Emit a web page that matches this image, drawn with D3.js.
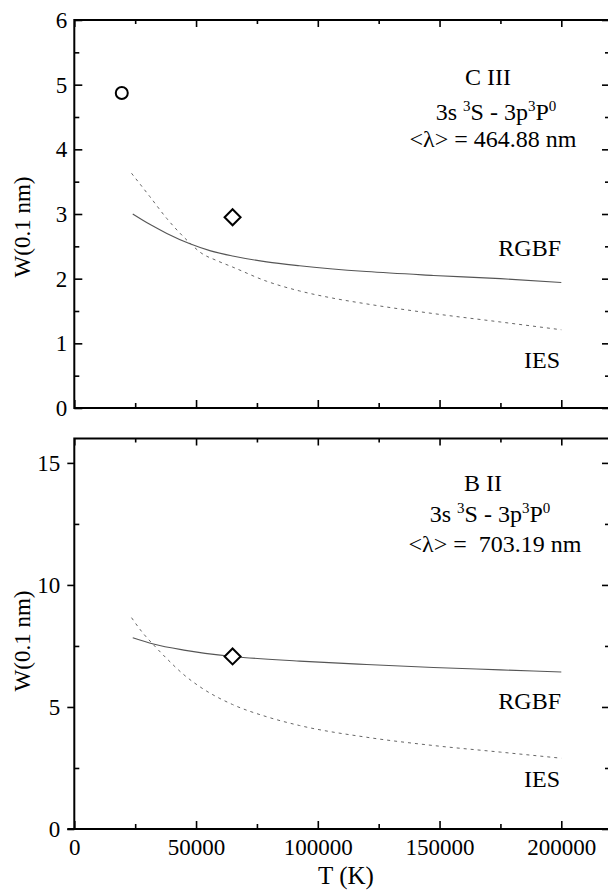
<!DOCTYPE html>
<html>
<head>
<meta charset="utf-8">
<script src="https://cdn.jsdelivr.net/npm/d3@7"></script>
<style>
  body { margin: 0; background: #fff; }
</style>
</head>
<body>
<div id="chart"></div>
<script>
// values (T in K, W in 0.1 nm)

// C III panel
const c3RgbfT = [24000, 31000, 38000, 47500, 56000, 65000, 79000, 92500, 120000, 147500, 175000, 200000];
const c3RgbfW = [3.00, 2.84, 2.70, 2.54, 2.43, 2.35, 2.26, 2.20, 2.11, 2.05, 2.00, 1.94];
const c3IesT = [23500, 31000, 38000, 47500, 52000, 58500, 65000, 79000, 92500, 106000, 120000, 147500, 175000, 200000];
const c3IesW = [3.63, 3.27, 2.93, 2.55, 2.40, 2.28, 2.18, 1.96, 1.81, 1.70, 1.61, 1.46, 1.33, 1.21];
const c3CircleT = [19500], c3CircleW = [4.87];
const c3DiamondT = [65000], c3DiamondW = [2.95];

// B II panel
const b2RgbfT = [24000, 32500, 45000, 65000, 92500, 120000, 147500, 175000, 200000];
const b2RgbfW = [7.84, 7.58, 7.33, 7.07, 6.88, 6.74, 6.62, 6.52, 6.43];
const b2IesT = [23500, 28000, 32500, 38000, 45000, 52000, 65000, 79000, 92500, 120000, 147500, 175000, 200000];
const b2IesW = [8.66, 8.05, 7.55, 6.98, 6.32, 5.80, 5.10, 4.60, 4.24, 3.76, 3.42, 3.15, 2.90];
const b2DiamondT = [65000], b2DiamondW = [7.07];

const xTicks = [0, 50000, 100000, 150000, 200000];
const xMinor = [25000, 75000, 125000, 175000];
const c3YTicks = [0, 1, 2, 3, 4, 5, 6];
const c3YMinor = [0.5, 1.5, 2.5, 3.5, 4.5, 5.5];
const b2YTicks = [0, 5, 10, 15];
const b2YMinor = [2.5, 7.5, 12.5];

const width = 608, height = 895;
const left = 74.3, right = 610;
const serif = "Liberation Serif";

const svg = d3.select("#chart").append("svg")
    .attr("width", width)
    .attr("height", height);

const x = d3.scaleLinear().domain([0, 220000]).range([left, right]);

const zip = (a, b) => a.map((v, i) => [v, b[i]]);

// a set of tick marks with no labels
function ticks(g, axis, pos, vals, size) {
    const a = g.append("g").attr("transform", pos)
        .call(axis.tickValues(vals).tickSize(size).tickFormat(""));
    a.select(".domain").remove();
    a.selectAll("line").attr("stroke-width", 1.6);
}

function panel(cfg) {
    const y = d3.scaleLinear().domain(cfg.domain).range([cfg.bottom, cfg.top]);
    const g = svg.append("g");

    // left axis with labels
    const la = g.append("g").attr("transform", `translate(${left},0)`)
        .call(d3.axisLeft(y).tickValues(cfg.yTicks).tickSize(cfg.outLeft ? 7 : -8)
            .tickPadding(7).tickFormat(d3.format("d")));
    la.select(".domain").remove();
    la.selectAll("line").attr("stroke-width", 1.6);
    la.selectAll("text").style("font-size", "23px");
    ticks(g, d3.axisLeft(y), `translate(${left},0)`, cfg.yMinor, -5);

    // right side ticks
    ticks(g, d3.axisRight(y), `translate(${right},0)`, cfg.yTicks, -8);
    ticks(g, d3.axisRight(y), `translate(${right},0)`, cfg.yMinor, -5);

    // bottom axis
    const ba = g.append("g").attr("transform", `translate(0,${cfg.bottom})`)
        .call(d3.axisBottom(x).tickValues(xTicks).tickSize(-8).tickPadding(10)
            .tickFormat(cfg.xLabels ? d3.format("d") : ""));
    ba.select(".domain").remove();
    ba.selectAll("line").attr("stroke-width", 1.6);
    ba.selectAll("text").style("font-size", "23px");
    ticks(g, d3.axisBottom(x), `translate(0,${cfg.bottom})`, xMinor, -5);

    // top ticks
    ticks(g, d3.axisTop(x), `translate(0,${cfg.top})`, xTicks, -7);
    ticks(g, d3.axisTop(x), `translate(0,${cfg.top})`, xMinor, -4);

    // frame
    g.append("rect")
        .attr("x", left).attr("y", cfg.top)
        .attr("width", right - left).attr("height", cfg.bottom - cfg.top)
        .attr("fill", "none").attr("stroke", "#000").attr("stroke-width", 2);
    if (cfg.outLeft) {
        g.append("line").attr("x1", left - 7).attr("x2", left)
            .attr("y1", cfg.bottom).attr("y2", cfg.bottom)
            .attr("stroke", "#000").attr("stroke-width", 2);
    }

    const line = d3.line().x(d => x(d[0])).y(d => y(d[1])).curve(d3.curveMonotoneX);

    g.append("path").datum(zip(cfg.rgbfT, cfg.rgbfW))
        .attr("d", line).attr("fill", "none")
        .attr("stroke", "#555").attr("stroke-width", 1.1);
    g.append("path").datum(zip(cfg.iesT, cfg.iesW))
        .attr("d", line).attr("fill", "none")
        .attr("stroke", "#666").attr("stroke-width", 1)
        .attr("stroke-dasharray", "3,4");

    if (cfg.circT) {
        g.selectAll(".circ").data(zip(cfg.circT, cfg.circW)).join("circle")
            .attr("cx", d => x(d[0])).attr("cy", d => y(d[1])).attr("r", 6)
            .attr("fill", "none").attr("stroke", "#000").attr("stroke-width", 2);
    }
    g.selectAll(".diam").data(zip(cfg.diamT, cfg.diamW)).join("path")
        .attr("transform", d => `translate(${x(d[0])},${y(d[1])})`)
        .attr("d", "M0,-8L8,0L0,8L-8,0Z")
        .attr("fill", "#fff").attr("stroke", "#000").attr("stroke-width", 2);

    // y title
    g.append("text")
        .attr("transform", `translate(30,${cfg.yTitle}) rotate(-90)`)
        .attr("text-anchor", "middle")
        .style("font-size", "23px")
        .text("W(0.1 nm)");

    // curve labels
    g.append("text").attr("x", 561).attr("y", cfg.rgbfLab).attr("text-anchor", "end")
        .style("font-size", "24px").text("RGBF");
    g.append("text").attr("x", 560).attr("y", cfg.iesLab).attr("text-anchor", "end")
        .style("font-size", "24px").text("IES");

    // ion / transition annotation
    g.append("text").attr("x", cfg.cx[0]).attr("y", cfg.ann).attr("text-anchor", "middle")
        .style("font-size", "24px").text(cfg.ion);
    const tr = g.append("text").attr("x", cfg.cx[1]).attr("y", cfg.ann + cfg.gap[0])
        .attr("text-anchor", "middle").style("font-size", "24px");
    tr.append("tspan").text("3s ");
    tr.append("tspan").attr("dy", -9).style("font-size", "15px").text("3");
    tr.append("tspan").attr("dy", 9).text("S - 3p");
    tr.append("tspan").attr("dy", -9).style("font-size", "15px").text("3");
    tr.append("tspan").attr("dy", 9).text("P");
    tr.append("tspan").attr("dy", -9).style("font-size", "15px").text("0");
    g.append("text").attr("x", cfg.cx[2]).attr("y", cfg.ann + cfg.gap[1]).attr("text-anchor", "middle")
        .style("font-size", "24px").style("white-space", "pre").text(cfg.wave);

    return y;
}

panel({
    domain: [0, 6], top: 20, bottom: 408,
    yTicks: c3YTicks, yMinor: c3YMinor, outLeft: false, xLabels: false,
    rgbfT: c3RgbfT, rgbfW: c3RgbfW, iesT: c3IesT, iesW: c3IesW,
    circT: c3CircleT, circW: c3CircleW, diamT: c3DiamondT, diamW: c3DiamondW,
    yTitle: 227, rgbfLab: 256, iesLab: 368,
    ion: "C III", ann: 85, gap: [35, 62], cx: [488, 496, 493],
    wave: "<λ> = 464.88 nm"
});

panel({
    domain: [0, 16], top: 438.5, bottom: 829,
    yTicks: b2YTicks, yMinor: b2YMinor, outLeft: true, xLabels: true,
    rgbfT: b2RgbfT, rgbfW: b2RgbfW, iesT: b2IesT, iesW: b2IesW,
    diamT: b2DiamondT, diamW: b2DiamondW,
    yTitle: 641, rgbfLab: 709, iesLab: 787,
    ion: "B II", ann: 491, gap: [31, 61], cx: [483, 490, 495],
    wave: "<λ> =  703.19 nm"
});

svg.append("text")
    .attr("x", 346).attr("y", 884)
    .attr("text-anchor", "middle")
    .style("font-size", "25px")
    .text("T (K)");

// serif everywhere, overriding the axis default
svg.selectAll("g").attr("font-family", null);
svg.selectAll("text").style("font-family", serif).attr("fill", "#000");
</script>
</body>
</html>
